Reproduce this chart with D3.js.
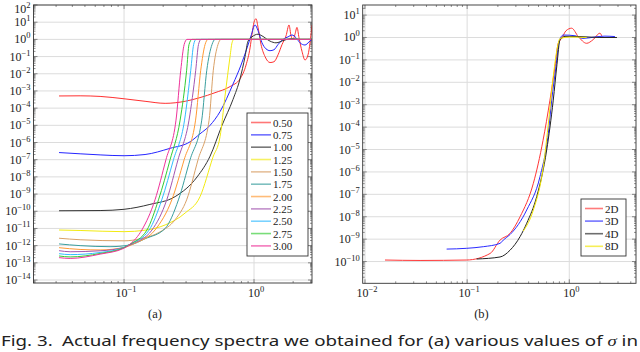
<!DOCTYPE html>
<html lang="en">
<head>
<meta charset="UTF-8">
<title>Frequency spectra</title>
<script src="https://cdn.jsdelivr.net/npm/d3@7"></script>
<style>
  body { margin: 0; background: #fff; }
  svg { display: block; }
  .tick-label, .legend-label, .sub-label { font-family: "Liberation Serif", serif; fill: #222; }
  .tick-label { font-size: 12px; }
  .legend-label { font-size: 11px; }
  .sub-label { font-size: 12.5px; }
  .caption { font-family: "Noto Sans", sans-serif; font-size: 15px; fill: #222; }
  .grid { stroke: #dcdcdc; stroke-width: 1; }
  .frame { fill: none; stroke: #333; stroke-width: 0.9; }
  .series { fill: none; stroke-width: 1; }
</style>
</head>
<body>
<svg width="640" height="352"></svg>
<script>
// (a) spectra for several sigma values
const sigmaLabels = ["0.50", "0.75", "1.00", "1.25", "1.50", "1.75", "2.00", "2.25", "2.50", "2.75", "3.00"];
const sigmaColors = ["#ff3030", "#2525ff", "#333333", "#f2ea10", "#d9a066", "#3a9e9e",
                     "#ff9933", "#a355b0", "#33bbff", "#33cc33", "#ee3399"];

const sigma050 = [[0.0316,5.1e-4],[0.0459,5.2e-4],[0.0654,4.8e-4],[0.1,3.5e-4],[0.145,2.5e-4],[0.207,1.9e-4],
  [0.295,2.5e-4],[0.384,4.1e-4],[0.501,7.9e-4],[0.654,1.8e-3],[0.78,5.0e-3],[0.868,0.032],[0.932,0.32],
  [0.965,2.0],[1.0,10],[1.036,16],[1.074,5.0],[1.132,0.5],[1.215,0.1],[1.328,0.045],[1.425,0.05],
  [1.53,0.126],[1.642,0.5],[1.763,1.6],[1.859,6.9],[1.926,1.6],[1.995,1.0],[2.067,2.0],[2.141,5.0],
  [2.218,1.26],[2.34,0.2],[2.467,0.063],[2.603,0.126],[2.697,0.63],[2.793,6.9]];
const sigma075 = [[0.0316,2.6e-7],[0.0459,2.2e-7],[0.0654,1.9e-7],[0.1,1.7e-7],[0.145,2.0e-7],[0.226,4.6e-7],
  [0.322,1.1e-6],[0.384,3.2e-6],[0.459,1e-5],[0.548,6.3e-5],[0.689,2.5e-3],[0.794,0.032],[0.884,0.32],
  [0.948,1.6],[1.018,6.9],[1.074,3.2],[1.152,0.63],[1.237,0.28],[1.328,0.22],[1.425,0.25],[1.53,0.5],
  [1.671,1.0],[1.827,1.4],[1.96,1.8],[2.103,1.26],[2.259,0.63],[2.467,0.47],[2.65,0.71],[2.793,1.0]];
const sigma100 = [[0.0316,1.07e-10],[0.0654,1.1e-10],[0.1,1.3e-10],[0.158,2.5e-10],[0.247,7.1e-10],
  [0.365,1e-8],[0.459,1.6e-7],[0.567,1e-5],[0.689,3.2e-4],[0.78,5e-3],[0.853,0.1],[0.899,0.79],
  [0.965,1.4],[1.074,2.0],[1.152,1.6],[1.328,0.79],[1.476,0.63],[1.701,0.89],[1.96,1.12],[2.259,1.0],[2.793,1.0]];
const sigma125 = [[0.0316,8.1e-12],[0.0459,7.6e-12],[0.1,6.5e-12],[0.145,7.9e-12],[0.207,1.6e-11],
  [0.295,7.9e-11],[0.384,7e-10],[0.483,1.4e-7],[0.548,2.2e-6],[0.598,5e-4],[0.654,0.1],[0.677,0.63],
  [0.70,1],[2.793,1]];
const sigma150 = [[0.0316,2.7e-12],[0.0459,2.2e-12],[0.1,1.9e-12],[0.133,2.5e-12],[0.189,6.3e-12],
  [0.247,3.2e-11],[0.303,4.6e-10],[0.371,1e-7],[0.451,2.0e-5],[0.486,0.016],[0.528,0.5],[0.557,1],[2.793,1]];
const sigma175 = [[0.0316,1.26e-12],[0.0459,1e-12],[0.078,8.7e-13],[0.111,1.1e-12],[0.145,2.5e-12],
  [0.207,1e-11],[0.262,4.6e-10],[0.322,1e-7],[0.396,2e-5],[0.433,0.016],[0.475,0.5],[0.501,1],[2.793,1]];
const sigma200 = [[0.0316,7.6e-13],[0.0459,6.0e-13],[0.0654,5.6e-13],[0.1,7.9e-13],[0.122,1.4e-12],
  [0.173,8.1e-12],[0.233,4.6e-10],[0.290,1e-7],[0.355,2e-5],[0.389,0.016],[0.420,0.5],[0.443,1],[2.793,1]];
const sigma225 = [[0.0316,5.1e-13],[0.0385,4.4e-13],[0.0654,5.0e-13],[0.1,7.9e-13],[0.115,1.26e-12],
  [0.164,8.1e-12],[0.213,4.6e-10],[0.260,1e-7],[0.316,2e-5],[0.356,0.016],[0.374,0.5],[0.391,1],[2.793,1]];
const sigma250 = [[0.0316,3.4e-13],[0.0385,3.0e-13],[0.0654,4.0e-13],[0.1,7.9e-13],[0.111,1.2e-12],
  [0.156,8.1e-12],[0.195,4.6e-10],[0.240,1e-7],[0.292,2e-5],[0.326,0.016],[0.343,0.5],[0.358,1],[2.793,1]];
const sigma275 = [[0.0316,2.5e-13],[0.0385,2.2e-13],[0.0654,3.5e-13],[0.1,7.6e-13],[0.111,1.2e-12],
  [0.150,8.1e-12],[0.184,4.6e-10],[0.226,1e-7],[0.270,2e-5],[0.303,0.016],[0.316,0.5],[0.333,1],[2.793,1]];
const sigma300 = [[0.0316,2.0e-13],[0.0385,1.8e-13],[0.0654,3.2e-13],[0.1,7.1e-13],[0.111,1.2e-12],
  [0.137,8.1e-12],[0.173,4.6e-10],[0.210,1e-7],[0.251,2e-5],[0.273,0.016],[0.290,0.5],[0.305,1],[2.793,1]];

// (b) spectra for several dimensions
const dimLabels = ["2D", "3D", "4D", "8D"];
const dimColors = ["#ff3535", "#2a2aff", "#222222", "#f2e600"];

const dim2 = [[0.0157,1.17e-10],[0.0346,1.12e-10],[0.0991,1.17e-10],[0.168,2.3e-10],[0.210,9.1e-10],
  [0.263,1.8e-9],[0.330,1e-8],[0.445,3.1e-7],[0.553,2.5e-5],[0.647,1.6e-3],[0.725,0.05],[0.780,0.55],
  [0.843,0.91],[0.929,2.0],[1.055,2.6],[1.225,1.1],[1.480,0.55],[1.706,0.79],[1.996,1.55],[2.09,1.12]];
const dim3 = [[0.063,3.6e-10],[0.0991,3.9e-10],[0.144,4.6e-10],[0.210,6.5e-10],[0.226,9.1e-10],
  [0.263,1.6e-9],[0.383,2e-8],[0.517,6.2e-7],[0.623,5.2e-5],[0.673,1.6e-3],[0.741,0.05],[0.793,0.63],
  [0.873,1.29],[1.137,1.2],[1.362,0.91],[1.783,1.05],[2.236,1.15],[2.80,1.1]];
const dim4 = [[0.124,1.3e-10],[0.210,1.6e-10],[0.263,3.2e-10],[0.330,1.3e-9],[0.383,5.1e-9],
  [0.480,7.9e-8],[0.601,9.5e-6],[0.697,1.6e-3],[0.758,0.063],[0.811,0.79],[0.908,1.12],[1.273,1.1],
  [1.996,1.0],[2.93,1.0]];
const dim8 = [[0.355,2.3e-9],[0.445,2e-8],[0.557,1.7e-6],[0.619,1e-4],[0.697,0.018],[0.780,0.55],
  [0.811,0.91],[1.016,1.05],[1.48,1.0]];

const svg = d3.select("svg");

function sup(sel, base, exp) {
  sel.append("tspan").text(base);
  sel.append("tspan").attr("dy", -5).attr("font-size", "8.5px").text(exp);
}
function expLabel(e) { return e < 0 ? "\u2212" + (-e) : String(e); }

function drawPanel(p) {
  const x = d3.scaleLog().domain(p.xDomain).range([p.left, p.right]);
  const y = d3.scaleLog().domain(p.yDomain).range([p.bottom, p.top]);
  const g = svg.append("g");

  const xMin = Math.log10(p.xDomain[0]), xMax = Math.log10(p.xDomain[1]);
  const yMin = Math.log10(p.yDomain[0]), yMax = Math.log10(p.yDomain[1]);
  const xMajor = d3.range(Math.ceil(xMin - 1e-6), Math.floor(xMax + 1e-6) + 1);
  const yMajor = d3.range(Math.ceil(yMin - 1e-6), Math.floor(yMax + 1e-6) + 1);
  const minors = (lo, hi) => {
    const out = [];
    for (let d = Math.floor(lo); d <= Math.ceil(hi); d++)
      for (let k = 2; k <= 9; k++) {
        const v = k * Math.pow(10, d);
        if (Math.log10(v) > lo && Math.log10(v) < hi) out.push(v);
      }
    return out;
  };

  // grid
  g.selectAll(".gx").data(xMajor).enter().append("line").attr("class", "grid")
    .attr("x1", e => x(Math.pow(10, e))).attr("x2", e => x(Math.pow(10, e)))
    .attr("y1", p.top).attr("y2", p.bottom);
  g.selectAll(".gy").data(yMajor).enter().append("line").attr("class", "grid")
    .attr("y1", e => y(Math.pow(10, e))).attr("y2", e => y(Math.pow(10, e)))
    .attr("x1", p.left).attr("x2", p.right);

  // ticks on all four sides, pointing inward
  const tick = (xs, ys, len) => {
    xs.forEach(v => {
      const px = x(v);
      g.append("line").attr("x1", px).attr("x2", px).attr("y1", p.bottom).attr("y2", p.bottom - len).attr("stroke", "#444").attr("stroke-width", 0.6);
      g.append("line").attr("x1", px).attr("x2", px).attr("y1", p.top).attr("y2", p.top + len).attr("stroke", "#444").attr("stroke-width", 0.6);
    });
    ys.forEach(v => {
      const py = y(v);
      g.append("line").attr("y1", py).attr("y2", py).attr("x1", p.left).attr("x2", p.left + len).attr("stroke", "#444").attr("stroke-width", 0.6);
      g.append("line").attr("y1", py).attr("y2", py).attr("x1", p.right).attr("x2", p.right - len).attr("stroke", "#444").attr("stroke-width", 0.6);
    });
  };
  tick(xMajor.map(e => Math.pow(10, e)), yMajor.map(e => Math.pow(10, e)), 4);
  tick(minors(xMin, xMax), minors(yMin, yMax), 2);

  // series
  const clipId = "clip" + p.name;
  svg.append("clipPath").attr("id", clipId).append("rect")
    .attr("x", p.left).attr("y", p.top).attr("width", p.right - p.left).attr("height", p.bottom - p.top);
  const line = d3.line().x(d => x(d[0])).y(d => y(d[1])).curve(d3.curveMonotoneX);
  const lg = g.append("g").attr("clip-path", `url(#${clipId})`);
  p.series.forEach((s, i) => {
    lg.append("path").attr("class", "series").attr("d", line(s))
      .attr("stroke", p.colors[i]).attr("stroke-width", p.widths ? p.widths[i] : 1);
  });

  g.append("rect").attr("class", "frame")
    .attr("x", p.left).attr("y", p.top).attr("width", p.right - p.left).attr("height", p.bottom - p.top);

  // tick labels
  yMajor.filter(e => e <= p.yLabelMax).forEach(e => {
    const t = g.append("text").attr("class", "tick-label").attr("text-anchor", "end")
      .attr("x", p.left - 3).attr("y", Math.max(y(Math.pow(10, e)) + 4, 13));
    sup(t, "10", expLabel(e));
  });
  xMajor.forEach(e => {
    const t = g.append("text").attr("class", "tick-label").attr("text-anchor", "middle")
      .attr("x", x(Math.pow(10, e)) + 2).attr("y", p.bottom + 14);
    sup(t, "10", expLabel(e));
  });

  // legend
  const L = p.legend;
  const lgd = g.append("g");
  lgd.append("rect").attr("x", L.x).attr("y", L.y).attr("width", L.w).attr("height", L.h)
    .attr("fill", "#fff").attr("stroke", "#333").attr("stroke-width", 0.9);
  p.labels.forEach((lab, i) => {
    const cy = L.y + L.first + i * L.step;
    lgd.append("line").attr("x1", L.x + 4).attr("x2", L.x + 4 + L.len).attr("y1", cy).attr("y2", cy)
      .attr("stroke", p.colors[i]).attr("stroke-width", 1.6).attr("opacity", 0.65);
    lgd.append("text").attr("class", "legend-label").attr("x", L.x + 6 + L.len).attr("y", cy + 4).text(lab);
  });

  svg.append("text").attr("class", "sub-label").attr("text-anchor", "middle")
    .attr("x", p.subX).attr("y", 318).text(p.sub);
}

drawPanel({
  name: "a", left: 33.5, right: 312, top: 5, bottom: 283,
  xDomain: [0.0201, 2.793], yDomain: [6.7e-15, 100], yLabelMax: 2,
  series: [sigma050, sigma075, sigma100, sigma125, sigma150, sigma175, sigma200, sigma225, sigma250, sigma275, sigma300],
  widths: [1.2, 1.2, 1, 1, 1, 1, 1, 1, 1, 1, 1.3],
  colors: sigmaColors, labels: sigmaLabels,
  legend: { x: 247, y: 113, w: 61, h: 143, first: 9.5, step: 12.34, len: 20 },
  sub: "(a)", subX: 155
});

drawPanel({
  name: "b", left: 362.7, right: 636, top: 5, bottom: 283.3,
  xDomain: [0.0095, 4.5], yDomain: [1.07e-11, 28.2], yLabelMax: 1,
  series: [dim2, dim3, dim4, dim8],
  widths: [1.3, 1.3, 1, 1],
  colors: dimColors, labels: dimLabels,
  legend: { x: 581, y: 199, w: 45, h: 57, first: 9.5, step: 12.6, len: 18 },
  sub: "(b)", subX: 481.5
});

const cap = svg.append("text").attr("class", "caption").attr("x", 1).attr("y", 346)
  .attr("textLength", 637).attr("lengthAdjust", "spacingAndGlyphs");
cap.append("tspan").text("Fig. 3.\u2002Actual frequency spectra we obtained for (a) various values of ");
cap.append("tspan").attr("font-style", "italic").attr("font-family", "Liberation Serif, serif").text("\u03c3");
cap.append("tspan").text(" in");
</script>
</body>
</html>
